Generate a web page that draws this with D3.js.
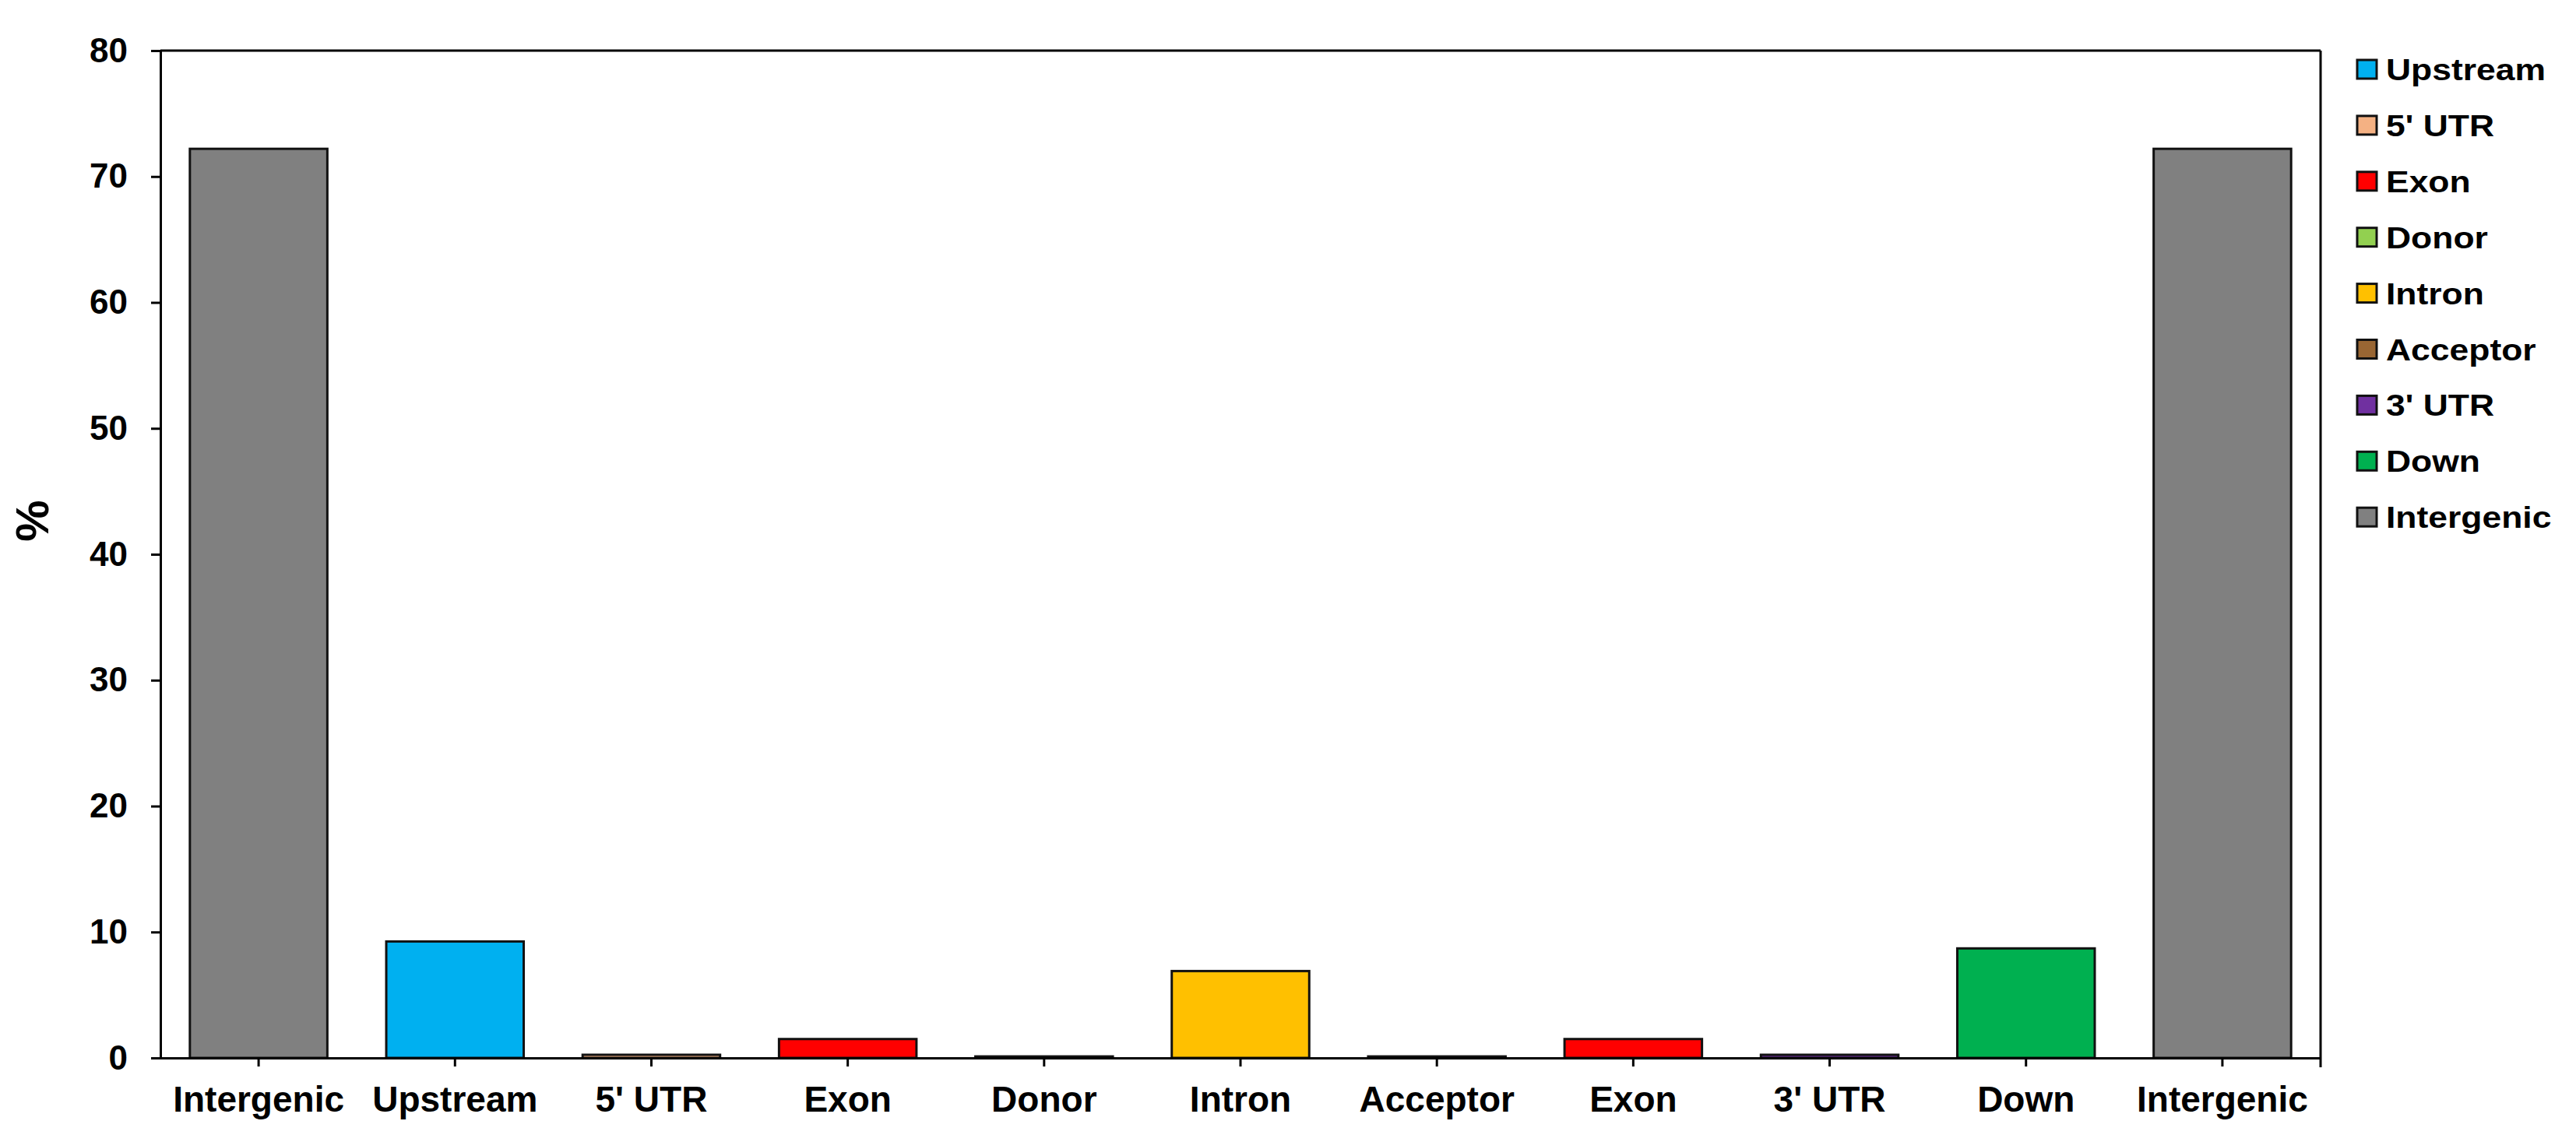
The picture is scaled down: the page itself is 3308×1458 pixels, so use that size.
<!DOCTYPE html>
<html>
<head>
<meta charset="utf-8">
<script src="https://cdn.jsdelivr.net/npm/d3@7"></script>
<style>
  html, body { margin: 0; padding: 0; background: #fff; }
  svg text { font-family: "Liberation Sans", Arial, sans-serif; font-weight: bold; fill: #000; }
</style>
</head>
<body>
<svg id="chart" width="3308" height="1458"></svg>
<script>
// ---- data ----
const categories = ["Intergenic", "Upstream", "5' UTR", "Exon", "Donor", "Intron", "Acceptor", "Exon", "3' UTR", "Down", "Intergenic"];
const values = [72.2, 9.25, 0.25, 1.5, 0.12, 6.9, 0.12, 1.5, 0.25, 8.7, 72.2];
const barColors = ["#808080", "#00B0F0", "#F4B183", "#FF0000", "#92D050", "#FFC000", "#996633", "#FF0000", "#7030A0", "#00B050", "#808080"];
const legendLabels = ["Upstream", "5' UTR", "Exon", "Donor", "Intron", "Acceptor", "3' UTR", "Down", "Intergenic"];
const legendColors = ["#00B0F0", "#F4B183", "#FF0000", "#92D050", "#FFC000", "#996633", "#7030A0", "#00B050", "#808080"];
const yTicks = [0, 10, 20, 30, 40, 50, 60, 70, 80];
const yTitle = "%";

// ---- layout ----
const plot = { left: 206, right: 2980, top: 65, bottom: 1359 };
const svg = d3.select("#chart");

const x = d3.scaleBand()
  .domain(d3.range(categories.length))
  .range([plot.left, plot.right])
  .paddingInner(0.30)
  .paddingOuter(0.15);

const y = d3.scaleLinear().domain([0, 80]).range([plot.bottom, plot.top]);

// bars
svg.append("g").selectAll("rect")
  .data(values)
  .join("rect")
  .attr("x", (d, i) => x(i))
  .attr("width", x.bandwidth())
  .attr("y", d => y(d))
  .attr("height", d => y(0) - y(d))
  .attr("fill", (d, i) => barColors[i])
  .attr("stroke", "#111")
  .attr("stroke-width", 3);

// frame: top and right lines
svg.append("line")
  .attr("x1", plot.left).attr("x2", plot.right)
  .attr("y1", plot.top).attr("y2", plot.top)
  .attr("stroke", "#000").attr("stroke-width", 3);
svg.append("line")
  .attr("x1", plot.right).attr("x2", plot.right)
  .attr("y1", plot.top).attr("y2", plot.bottom + 12)
  .attr("stroke", "#000").attr("stroke-width", 3);

// y axis
const yAxis = svg.append("g")
  .attr("transform", `translate(${plot.left},0)`)
  .call(d3.axisLeft(y).tickValues(yTicks).tickSize(12).tickPadding(30).tickFormat(d3.format("d")));
yAxis.select(".domain").attr("stroke", "#000").attr("stroke-width", 3);
yAxis.selectAll(".tick line").attr("stroke", "#000").attr("stroke-width", 3);
yAxis.selectAll(".tick text")
  .style("font-family", '"Liberation Sans", Arial, sans-serif')
  .style("font-weight", "bold")
  .attr("font-size", 44)
  .attr("fill", "#000");

// x axis
const xAxis = svg.append("g")
  .attr("transform", `translate(0,${plot.bottom})`)
  .call(d3.axisBottom(x).tickSize(11).tickPadding(25).tickFormat(i => categories[i]).tickSizeOuter(0));
xAxis.select(".domain").attr("stroke", "#000").attr("stroke-width", 3);
xAxis.selectAll(".tick line").attr("stroke", "#000").attr("stroke-width", 3);
xAxis.selectAll(".tick text")
  .style("font-family", '"Liberation Sans", Arial, sans-serif')
  .style("font-weight", "bold")
  .attr("font-size", 46)
  .attr("fill", "#000");

// y title
svg.append("text")
  .attr("transform", `translate(62,669) rotate(-90)`)
  .attr("text-anchor", "middle")
  .attr("font-size", 60)
  .text(yTitle);

// legend
const legend = svg.append("g").attr("transform", "translate(3027,89)");
const rowH = 71.9;
const items = legend.selectAll("g").data(legendLabels).join("g")
  .attr("transform", (d, i) => `translate(0,${i * rowH})`);
items.append("rect")
  .attr("x", 0).attr("y", -12)
  .attr("width", 25).attr("height", 24)
  .attr("fill", (d, i) => legendColors[i])
  .attr("stroke", "#111").attr("stroke-width", 3);
items.append("text")
  .attr("transform", "translate(37,14) scale(1.17,1)")
  .attr("font-size", 38)
  .text(d => d);
</script>
</body>
</html>
